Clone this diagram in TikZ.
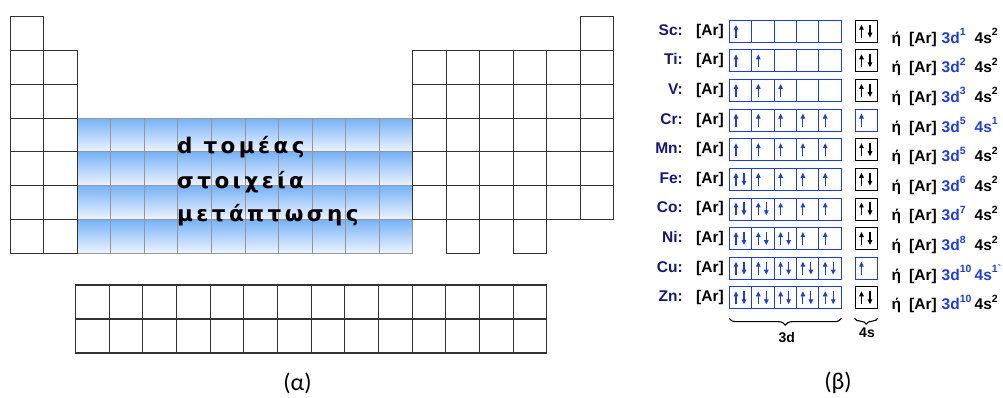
\documentclass[tikz,border=0pt]{standalone}
\usepackage{fontspec}
\setmainfont{Liberation Sans}
\newfontfamily\blockfont{DejaVu Sans}[LetterSpace=16]
\newfontfamily\capfont{Carlito}
\usetikzlibrary{calc,arrows.meta,decorations.pathreplacing}
\definecolor{GridDark}{RGB}{50,50,50}
\definecolor{GridMid}{RGB}{105,105,105}
\definecolor{GridGray}{RGB}{150,150,150}
\definecolor{BlockTop}{RGB}{118,178,246}
\definecolor{BlockBottom}{RGB}{238,244,255}
\definecolor{OrbBlue}{RGB}{30,60,230}
\definecolor{ElemNavy}{RGB}{22,22,125}
\newcommand\upidx[1]{\raisebox{7.5pt}{\fontsize{10.5}{10.5}\selectfont #1}}

\tikzset{
  cell/.style={draw=GridDark,line width=1.1pt},
  dcell/.style={draw=GridGray,line width=1pt},
  orb/.style={draw=OrbBlue,line width=0.8pt,minimum width=22.3pt,minimum height=22pt,inner sep=0pt},
  spin/.style={line width=1.1pt,-{Triangle[length=5pt,width=4.5pt]}},
  cfgtext/.style={inner sep=0pt,anchor=base west,font=\fontsize{15.5}{16}\selectfont\bfseries},
  blocktext/.style={inner sep=0pt,anchor=base west,font=\blockfont\bfseries\fontsize{21.5}{21.5}\selectfont},
}

\begin{document}
\begin{tikzpicture}[x=1pt,y=-1pt]
  \useasboundingbox (0,0) rectangle (1003,397);

  % (a) periodic table outline
  \begin{scope}[xshift=10.3pt,yshift=-16.7pt,x=33.53pt,y=-33.8pt]
    \foreach \r in {4,...,7}
      \shade[top color=BlockTop,bottom color=BlockBottom] (2,\r-1) rectangle (12,\r);
    \foreach \c in {2,...,12} \draw[dcell] (\c,3) -- (\c,7);
    \foreach \r in {3,...,7} \draw[dcell] (2,\r) -- (12,\r);

    \foreach \c/\r in {1/1,1/2,1/3,1/4,1/5,1/6,1/7,2/2,2/3,2/4,2/5,2/6,2/7,18/1,14/7,16/7}
      \draw[cell] (\c-1,\r-1) rectangle (\c,\r);
    \foreach \c in {13,...,18}
      \foreach \r in {2,...,6}
        \draw[cell] (\c-1,\r-1) rectangle (\c,\r);
  \end{scope}

  \node[blocktext] (dblock1) at (177,153.3) {d τομέας};
  \node[blocktext] (dblock2) at (177,188.3) {στοιχεία};
  \node[blocktext] (dblock3) at (177,221.7) {μετάπτωσης};

  % lanthanides / actinides
  \begin{scope}[xshift=75.5pt,yshift=-285pt,x=33.67pt,y=-34pt]
    \foreach \c in {0,...,13}
      \foreach \r in {0,1}
        \draw[cell] (\c,\r) rectangle (\c+1,\r+1);
  \end{scope}

  % (b) electron configurations
  \foreach \el/\nd/\ns/\xtra [count=\i from 0] in {Sc/1/2/{},Ti/2/2/{},V/3/2/{},Cr/5/1/{},Mn/5/2/{},Fe/6/2/{},Co/7/2/{},Ni/8/2/{},Cu/10/1/{\textasciigrave},Zn/10/2/{}} {
    \pgfmathsetmacro\yc{31.2+29.62*\i}
    \node[cfgtext,anchor=base east,text=ElemNavy] (\el-lab) at (683,\yc+4) {\el:};
    \node[cfgtext] (\el-core) at (696,\yc+4) {[Ar]};
    \foreach \j in {1,...,5} {
      \pgfmathsetmacro\xl{729.5+22.3*(\j-1)}
      \node[orb] (\el-d\j) at (\xl+11.15,\yc) {};
      \ifnum\nd<\j\else
        \draw[spin,OrbBlue] (\xl+6.5,\yc+6.5) -- (\xl+6.5,\yc-6.5);
      \fi
      \pgfmathtruncatemacro\jj{\j+5}
      \ifnum\nd<\jj\else
        \draw[spin,OrbBlue] (\xl+14.5,\yc-6.5) -- (\xl+14.5,\yc+6.5);
      \fi
    }
    \ifnum\ns=2
      \node[orb,draw=black] (\el-s) at (866.2,\yc) {};
      \draw[spin] (861.5,\yc+6.5) -- (861.5,\yc-6.5);
      \draw[spin] (870,\yc-6.5) -- (870,\yc+6.5);
      \node[cfgtext] (\el-4s) at (974.5,\yc+12) {4s\upidx{\ns}};
    \else
      \node[orb] (\el-s) at (866.2,\yc) {};
      \draw[spin,OrbBlue] (861.5,\yc+6.5) -- (861.5,\yc-6.5);
      \node[cfgtext,text=OrbBlue] (\el-4s) at (974.5,\yc+12) {4s\upidx{\ns\xtra}};
    \fi
    \node[cfgtext] (\el-or) at (891.5,\yc+12) {ή};
    \node[cfgtext] (\el-core2) at (909,\yc+12) {[Ar]};
    \node[cfgtext,text=OrbBlue] (\el-3d) at (941.5,\yc+12) {3d\upidx{\nd}};
  }

  \draw[line width=1.1pt,decorate,decoration={brace,mirror,amplitude=7pt}]
    ($(Zn-d1.south west)+(0,9)$) -- ($(Zn-d5.south east)+(0,9)$);
  \draw[line width=1.1pt,decorate,decoration={brace,mirror,amplitude=6pt}]
    ($(Zn-s.south west)+(0,9)$) -- ($(Zn-s.south east)+(0,9)$);
  \node[font=\fontsize{14}{14}\selectfont\bfseries] (lab3d) at (786.7,337) {3d};
  \node[font=\fontsize{14}{14}\selectfont\bfseries] (lab4s) at (867,333) {4s};

  \node[font=\capfont\fontsize{24}{24}\selectfont] (capa) at (297.5,383) {(α)};
  \node[font=\capfont\fontsize{24}{24}\selectfont] (capb) at (838,383) {(β)};
\end{tikzpicture}
\end{document}
